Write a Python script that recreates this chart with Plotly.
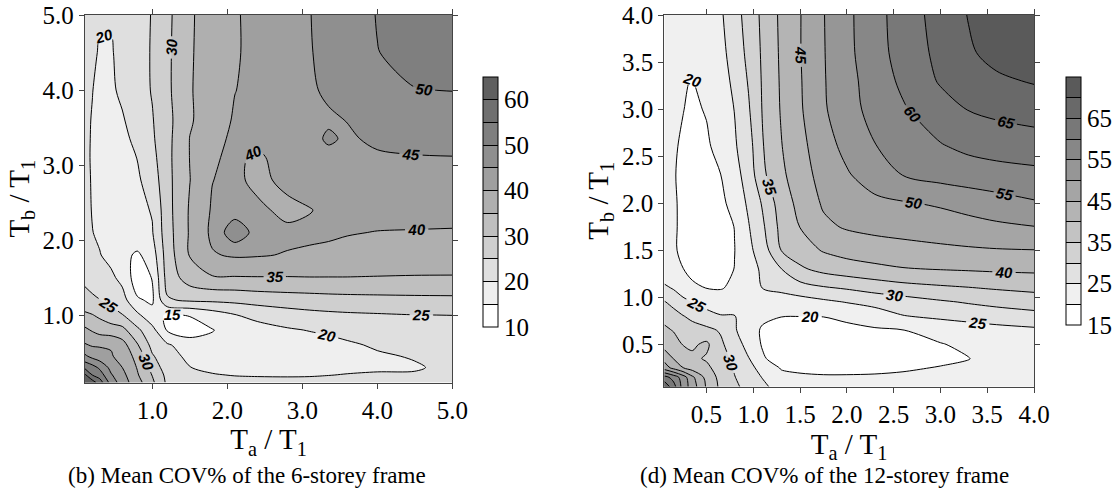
import plotly.graph_objects as go

# ---------------- data: 6-storey frame (panel b) ----------------
ta_6 = [0.1, 0.2, 0.3, 0.45, 0.6, 0.8, 1.0, 1.2, 1.5, 1.8, 2.1, 2.4, 2.8, 3.1, 3.35, 3.6, 4.0, 4.5, 5.0]
tb_6 = [0.1, 0.2, 0.3, 0.45, 0.6, 0.8, 1.0, 1.2, 1.5, 1.8, 2.1, 2.4, 2.8, 3.1, 3.35, 3.6, 4.0, 4.5, 5.0]
cov_6 = [
    [64, 62.5, 57.5, 48, 42.5, 37, 31, 24, 21.5, 21.5, 21.5, 21.5, 21.5, 21.5, 21.5, 21.8, 22, 22.3, 22.5],
    [61, 55, 52.5, 45.5, 41.5, 35.5, 29.8, 23.5, 20.8, 20.3, 19.8, 19.6, 19.5, 19.6, 19.9, 20.2, 20.5, 20.4, 21.5],
    [54, 52, 49, 43.5, 40, 34.7, 28.5, 22, 20.1, 19, 18.5, 18.3, 18.3, 18.5, 18.7, 19, 19.3, 19.6, 21],
    [46, 43.5, 42, 40.5, 38, 33.5, 25.5, 22, 18.8, 17.8, 17.5, 17.5, 17.8, 18.1, 18.4, 18.8, 19.5, 20.3, 21.2],
    [40.5, 39.5, 39.5, 39.5, 37, 30.5, 23.5, 20.6, 17.5, 16.2, 16.5, 17, 17.6, 18.1, 18.6, 19.4, 20.5, 21.3, 21.8],
    [36, 34.5, 33, 32.2, 31.5, 26, 21.5, 14.5, 12.5, 14.8, 17, 18.3, 19.5, 20.2, 20.8, 21.4, 22.2, 22.8, 23],
    [31, 30.2, 29, 27, 25.2, 21, 16.5, 14.5, 15.3, 17.5, 19.8, 21.3, 22.8, 23.6, 24, 24.3, 24.6, 24.95, 25.05],
    [26.5, 25.8, 25.1, 23.5, 22, 15.5, 14.3, 24.5, 25.8, 26, 26.3, 27, 27.6, 27.9, 28.2, 28.4, 28.6, 28.8, 28.9],
    [24, 23, 22, 21, 18.5, 12.5, 15.2, 27, 32.5, 34.6, 34.7, 34.8, 34.8, 34.9, 34.9, 34.9, 34.8, 34.7, 34.7],
    [22.5, 21.3, 20.2, 18.5, 16.5, 14.2, 17.5, 27.5, 35.3, 39.6, 40.6, 40.4, 39.7, 39.3, 39.1, 38.9, 38.2, 37.8, 37.5],
    [21.5, 20.1, 19.3, 18.5, 18.2, 18.8, 19.7, 28, 35.5, 41, 48.5, 43, 41.2, 40.9, 40.6, 40.2, 39.9, 39.8, 39.7],
    [21.3, 19.8, 18.8, 18, 18, 18.8, 20.3, 28.3, 35.5, 40.5, 42.5, 41.2, 38.5, 39.8, 41, 41.2, 41.3, 41.3, 41.3],
    [21, 19.7, 18.5, 17.8, 18, 19.3, 22.3, 28.6, 34.9, 39.9, 41.3, 38.5, 41.5, 42.2, 43, 43.2, 43.4, 43.5, 43.5],
    [20.9, 19.6, 18.4, 17.7, 18.3, 20.1, 23.5, 28.7, 35.1, 39.3, 41.2, 39, 42.5, 43.4, 44, 44.3, 44.5, 44.8, 44.9],
    [20.8, 19.7, 18.4, 17.9, 18.8, 21.2, 24.3, 28.6, 35.1, 38.7, 40.8, 41.5, 42.7, 43.9, 45.5, 44.5, 45.7, 46.1, 46.3],
    [20.8, 19.8, 18.5, 18.5, 19.5, 22.5, 24.7, 28.5, 34.5, 37.5, 40.5, 41.5, 42.5, 43.5, 44.5, 45.1, 46.2, 47.2, 47.7],
    [21, 20.1, 19, 19.2, 21, 23, 25.3, 29, 34.6, 37.5, 39.9, 41.2, 43, 44.5, 45.6, 46.4, 47.8, 49.9, 50.1],
    [21.5, 20.8, 19.6, 19.6, 21.5, 23.5, 25.3, 29, 34.5, 37.3, 39.6, 41.1, 43.2, 44.8, 46, 47, 49.9, 51.3, 52],
    [22, 21.5, 20.5, 20.5, 22, 23.5, 25.2, 28.8, 34.4, 37.2, 39.6, 41.2, 43.3, 44.9, 46.3, 47.5, 50.2, 52, 53],
]

# ---------------- data: 12-storey frame (panel d) ----------------
ta_12 = [0.05, 0.15, 0.25, 0.35, 0.5, 0.65, 0.8, 0.95, 1.1, 1.3, 1.5, 1.75, 2.0, 2.3, 2.6, 3.0, 3.3, 3.6, 4.0]
tb_12 = [0.05, 0.15, 0.25, 0.35, 0.5, 0.65, 0.8, 0.95, 1.1, 1.3, 1.5, 1.75, 2.0, 2.3, 2.6, 3.0, 3.3, 3.6, 4.0]
cov_12 = [
    [69, 62, 53, 47.5, 39.5, 34, 31, 28.3, 26, 23, 21.8, 21.5, 21.5, 21.6, 21.8, 22, 22.2, 22.3, 22.5],
    [62, 58, 52.5, 46, 38.5, 33.5, 30.2, 27.3, 24.8, 21.5, 20.8, 20.5, 20.5, 20.6, 21, 21.5, 21.8, 22, 22],
    [47.5, 43.5, 40.1, 37.8, 36, 33, 29.5, 26.3, 23.5, 19.6, 19, 18.7, 18.7, 18.9, 19.3, 20.3, 21, 21.4, 21.5],
    [43.5, 39.8, 37.5, 36, 34.5, 32, 28.8, 25.2, 20.7, 17.2, 16.3, 16, 16.2, 16.8, 17.5, 18.8, 19.9, 20.8, 21.5],
    [38, 37, 34.8, 34.2, 36, 31, 27, 23.5, 19.5, 17.5, 16.8, 16.6, 16.8, 17.3, 18.2, 19.8, 20.8, 21.5, 22.5],
    [36, 34.7, 33, 32, 31.3, 29.5, 25.6, 21.8, 19.5, 18.5, 18.2, 18.3, 18.8, 19.4, 19.9, 21.5, 22.5, 23.3, 24.1],
    [33.4, 31.8, 30.2, 28.8, 26.5, 25.3, 25.2, 22.5, 20.8, 20.1, 20.05, 20.1, 21, 22.6, 24.8, 26, 26.8, 27.6, 28.4],
    [30.3, 28.5, 26.3, 24.9, 23.4, 22.3, 22, 22, 21.6, 22, 22.8, 24, 25.2, 26.5, 27.7, 29.4, 30.4, 31.3, 32.4],
    [26, 24.5, 22.5, 21, 19.9, 19.7, 20.8, 23, 25.1, 26.5, 28, 29.5, 30.5, 32, 33.2, 34.2, 34.8, 35.5, 36.2],
    [21.2, 20.6, 20.1, 18.5, 17.5, 18, 20.1, 23, 25.8, 29.9, 34.2, 36.5, 37.8, 38.8, 39.7, 40.2, 40.5, 40.8, 41],
    [20.8, 20.8, 18.6, 17.2, 17, 17.5, 19.9, 23.8, 27.5, 35.1, 37.7, 40.4, 41.8, 42.8, 43.4, 44, 44.4, 44.7, 44.9],
    [20.7, 20.8, 18.7, 17.3, 17.2, 17.8, 20.1, 24.7, 29.2, 36.5, 40.1, 44, 45.5, 46.3, 46.8, 47.6, 48.3, 49.1, 49.9],
    [20.8, 20.7, 18.8, 17.5, 17.8, 18.8, 21.8, 25.8, 30.5, 37.5, 41.4, 45.6, 47.5, 48.9, 49.6, 50.6, 51.8, 53, 54.5],
    [20.9, 20.3, 19, 18, 18.5, 19.9, 23.3, 27, 34, 39, 42.8, 46.8, 49.5, 52.4, 55.1, 56.8, 57.6, 58.2, 58.7],
    [21, 20.4, 19.5, 18.6, 19.3, 21.5, 24.4, 28, 34.7, 39.8, 43.5, 48, 51.3, 54.8, 57, 59.6, 61, 61.8, 62.6],
    [21.2, 20.6, 20.1, 19.3, 20.3, 22.5, 25.1, 29.5, 35.3, 40.4, 44.4, 49.4, 53, 56.8, 59.5, 63, 65.2, 66.3, 67.2],
    [21.3, 20.7, 20.2, 19.9, 21, 23, 26, 30.4, 35.5, 40.6, 44.6, 49.6, 53.4, 57.3, 61, 65.5, 67.8, 69.2, 70.4],
    [21.5, 21, 20.5, 20.6, 21.8, 23.6, 27, 31.3, 35.7, 40.8, 44.8, 49.7, 53.8, 58, 62, 66.3, 69.4, 71.5, 73.2],
    [22, 21.5, 21, 21.3, 22.5, 24.3, 28, 32, 36, 41, 44.8, 49.8, 53.9, 58.3, 62.3, 67, 70.2, 72.3, 74.5],
]

ticks_6 = [1.0, 2.0, 3.0, 4.0, 5.0]
ticks_12 = [0.5, 1.0, 1.5, 2.0, 2.5, 3.0, 3.5, 4.0]
cbar_bounds_6 = [10, 15, 20, 25, 30, 35, 40, 45, 50, 55, 60, 65]
cbar_text_6 = ["10", "", "20", "", "30", "", "40", "", "50", "", "60", ""]
cbar_bounds_12 = [15, 20, 25, 30, 35, 40, 45, 50, 55, 60, 65, 70, 75]
cbar_text_12 = ["15", "", "25", "", "35", "", "45", "", "55", "", "65", "", ""]
captions = ["(b) Mean COV% of the 6-storey frame", "(d) Mean COV% of the 12-storey frame"]

W, H = 1120, 500
SERIF = "Liberation Serif"


def grey_colors(n, step):
    return [f"rgb({int(round(255 - step * k))},{int(round(255 - step * k))},{int(round(255 - step * k))})"
            for k in range(n)]


def smooth_scale(cols):
    n = len(cols)
    return [[k / (n - 1), c] for k, c in enumerate(cols)]


def stepped_scale(cols):
    n = len(cols)
    out = []
    for k, c in enumerate(cols):
        out.append([k / n, c])
        out.append([(k + 1) / n, c])
    return out


def px_x(p):
    return p / W


def px_y(p):
    return 1 - p / H


greys_6 = grey_colors(11, 16)
greys_12 = grey_colors(12, 15)

fig = go.Figure()

label_font = dict(family="Liberation Sans", size=15, color="black", weight="bold", style="italic")

fig.add_trace(go.Contour(
    x=ta_6, y=tb_6, z=cov_6,
    xaxis="x", yaxis="y",
    autocontour=False,
    contours=dict(start=15, end=60, size=5, coloring="fill", showlabels=True,
                  labelfont=label_font, labelformat=".0f"),
    line=dict(color="black", width=1, smoothing=0.9),
    colorscale=smooth_scale(greys_6),
    showscale=False,
    hoverinfo="skip",
))

fig.add_trace(go.Contour(
    x=ta_12, y=tb_12, z=cov_12,
    xaxis="x2", yaxis="y2",
    autocontour=False,
    contours=dict(start=20, end=70, size=5, coloring="fill", showlabels=True,
                  labelfont=label_font, labelformat=".0f"),
    line=dict(color="black", width=1, smoothing=0.9),
    colorscale=smooth_scale(greys_12),
    showscale=False,
    hoverinfo="skip",
))


def colorbar_trace(bounds, texts, cols, xa, ya, left_px, center_px, len_px):
    return go.Scatter(
        x=[None, None], y=[None, None], mode="markers",
        xaxis=xa, yaxis=ya, hoverinfo="skip", showlegend=False,
        marker=dict(
            color=[bounds[0], bounds[-1]], cmin=bounds[0], cmax=bounds[-1],
            colorscale=stepped_scale(cols), showscale=True,
            colorbar=dict(
                x=px_x(left_px), xanchor="left", xpad=0,
                y=px_y(center_px), yanchor="middle", ypad=0,
                len=len_px, lenmode="pixels", thickness=15,
                outlinecolor="black", outlinewidth=1,
                tickmode="array", tickvals=bounds, ticktext=texts,
                ticks="inside", ticklen=15, tickwidth=1, tickcolor="black",
                tickfont=dict(family=SERIF, size=25, color="black"),
            ),
        ),
    )


fig.add_trace(colorbar_trace(cbar_bounds_6, cbar_text_6, greys_6, "x", "y", 483, 202, 250))
fig.add_trace(colorbar_trace(cbar_bounds_12, cbar_text_12, greys_12, "x2", "y2", 1066, 201, 248))

axis_common = dict(
    showgrid=False, zeroline=False, automargin=False,
    showline=True, linecolor="#444", linewidth=1, mirror="ticks",
    ticks="outside", ticklen=5, tickwidth=1, tickcolor="#444",
    tickfont=dict(family=SERIF, size=25, color="black"),
    tickformat=".1f",
)
title_font = dict(family=SERIF, size=29, color="black")

fig.update_layout(
    width=W, height=H,
    margin=dict(l=0, r=0, t=0, b=0, pad=0, autoexpand=False),
    paper_bgcolor="white", plot_bgcolor="white",
    showlegend=False,
    xaxis=dict(axis_common, domain=[px_x(84.8), px_x(452.3)], range=[0.1, 5.0],
               tickvals=ticks_6, anchor="y",
               title=dict(text="T<sub>a</sub> / T<sub>1</sub>", font=title_font, standoff=0)),
    yaxis=dict(axis_common, domain=[px_y(382.5), px_y(15)], range=[0.1, 5.0],
               tickvals=ticks_6, anchor="x",
               title=dict(text="T<sub>b</sub> / T<sub>1</sub>", font=title_font, standoff=4)),
    xaxis2=dict(axis_common, domain=[px_x(664.3), px_x(1034)], range=[0.05, 4.0],
                tickvals=ticks_12, anchor="y2",
                title=dict(text="T<sub>a</sub> / T<sub>1</sub>", font=title_font, standoff=0)),
    yaxis2=dict(axis_common, domain=[px_y(386.7), px_y(15)], range=[0.05, 4.0],
                tickvals=ticks_12, anchor="x2",
                title=dict(text="T<sub>b</sub> / T<sub>1</sub>", font=title_font, standoff=4)),
    annotations=[
        dict(text=captions[0], x=px_x(66), y=px_y(475), xref="paper", yref="paper",
             xanchor="left", yanchor="middle", showarrow=False,
             font=dict(family=SERIF, size=23, color="black")),
        dict(text=captions[1], x=px_x(638), y=px_y(475), xref="paper", yref="paper",
             xanchor="left", yanchor="middle", showarrow=False,
             font=dict(family=SERIF, size=23, color="black")),
    ],
)

fig.write_html(
    "out.html",
    config={"displayModeBar": False, "staticPlot": True},
    post_script="document.body.style.margin='0px';document.body.style.padding='0px';",
)
